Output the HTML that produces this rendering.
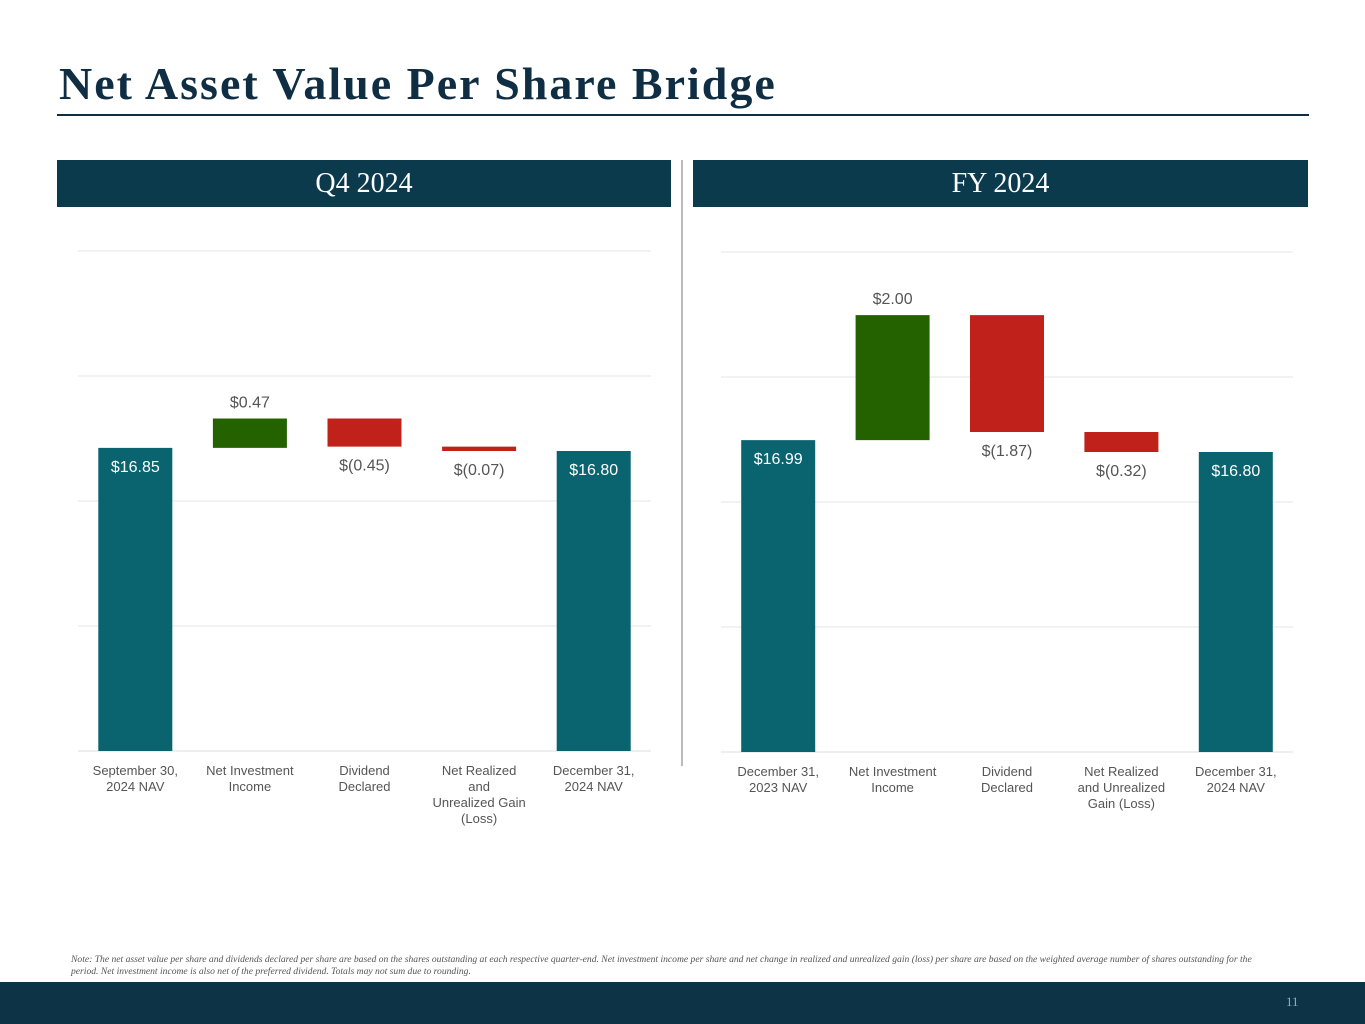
<!DOCTYPE html>
<html><head><meta charset="utf-8"><style>
body{margin:0;width:1365px;height:1024px;position:relative;background:#fff;font-family:"Liberation Sans",sans-serif;overflow:hidden}
.title{position:absolute;left:59px;top:57px;font-family:"Liberation Serif",serif;font-weight:bold;font-size:46px;letter-spacing:2px;color:#0f2e44}
.rule{position:absolute;left:57px;top:114px;width:1252px;height:2px;background:#0f2e44}
.band{position:absolute;top:160px;height:47px;background:#0b3a4c;color:#fff;font-family:"Liberation Serif",serif;font-size:28px;text-align:center;line-height:47px}
.divider{position:absolute;left:681px;top:160px;width:2px;height:606px;background:#bbb}
.note{position:absolute;left:71px;top:954px;width:1210px;font-family:"Liberation Serif",serif;font-style:italic;font-size:9.6px;color:#555;line-height:12px}
.footer{position:absolute;left:0;top:982px;width:1365px;height:42px;background:#0c3446}
.pg{position:absolute;left:1286px;top:994px;color:#9ab;font-family:"Liberation Serif",serif;font-size:13px}
</style></head><body>
<div class="title">Net Asset Value Per Share Bridge</div>
<div class="rule"></div>
<div class="band" style="left:57px;width:614px">Q4 2024</div>
<div class="band" style="left:693px;width:615px">FY 2024</div>
<div class="divider"></div>
<svg id="chart" width="1365" height="1024" style="position:absolute;left:0;top:0"></svg>
<div class="note">Note: The net asset value per share and dividends declared per share are based on the shares outstanding at each respective quarter-end. Net investment income per share and net change in realized and unrealized gain (loss) per share are based on the weighted average number of shares outstanding for the period. Net investment income is also net of the preferred dividend. Totals may not sum due to rounding.</div>
<div class="footer"></div>
<div class="pg">11</div>
<script>
const q4Categories=[["September 30,","2024 NAV"],["Net Investment","Income"],["Dividend","Declared"],["Net Realized","and","Unrealized Gain","(Loss)"],["December 31,","2024 NAV"]];
const q4Values=[16.85,0.47,-0.45,-0.07,16.80];
const q4Labels=["$16.85","$0.47","$(0.45)","$(0.07)","$16.80"];
const fyCategories=[["December 31,","2023 NAV"],["Net Investment","Income"],["Dividend","Declared"],["Net Realized","and Unrealized","Gain (Loss)"],["December 31,","2024 NAV"]];
const fyValues=[16.99,2.00,-1.87,-0.32,16.80];
const fyLabels=["$16.99","$2.00","$(1.87)","$(0.32)","$16.80"];
const yTicks=[12,14,16,18,20];
const NS="http://www.w3.org/2000/svg";
const svg=document.getElementById('chart');
function mk(t,a){const e=document.createElementNS(NS,t);for(const k in a)e.setAttribute(k,a[k]);svg.appendChild(e);return e;}
function draw(x0,x1,base,cats,vals,labs,p){
  const y=v=>base-(v-12)*62.5;
  const bw=(x1-x0)/cats.length;
  yTicks.forEach(t=>{const l=mk('line',{x1:x0,x2:x1,y1:y(t),y2:y(t),stroke:t===12?'#ddd':'#e6e6e6','stroke-width':1});
    
    });
  let run=0;
  vals.forEach((v,i)=>{
    const cx=x0+bw*(i+0.5);let top,bot,fill;
    if(i===0||i===vals.length-1){top=y(v);bot=base;fill='#0a6470';run=v;}
    else{const a=run,b=run+v;top=y(Math.max(a,b));bot=y(Math.min(a,b));fill=v>=0?'#246200':'#c0211a';run=b;}
    const r=mk('rect',{x:cx-37,y:top,width:74,height:Math.max(bot-top,2),fill:fill});
    
    
    let ty,col='#555';
    if(i===0||i===vals.length-1){ty=top+24;col='#fff';}else if(v>=0){ty=top-11;}else{ty=bot+24;}
    const t=mk('text',{x:cx,y:ty,'text-anchor':'middle','font-size':16,fill:col});t.textContent=labs[i];
    
    
    cats[i].forEach((s,j)=>{const c=mk('text',{x:cx,y:base+24+j*16,'text-anchor':'middle','font-size':13,fill:'#555'});c.textContent=s;
      
      });
  });
}
draw(78,651,751,q4Categories,q4Values,q4Labels,'q4');
draw(721,1293,752,fyCategories,fyValues,fyLabels,'fy');
</script>
</body></html>
